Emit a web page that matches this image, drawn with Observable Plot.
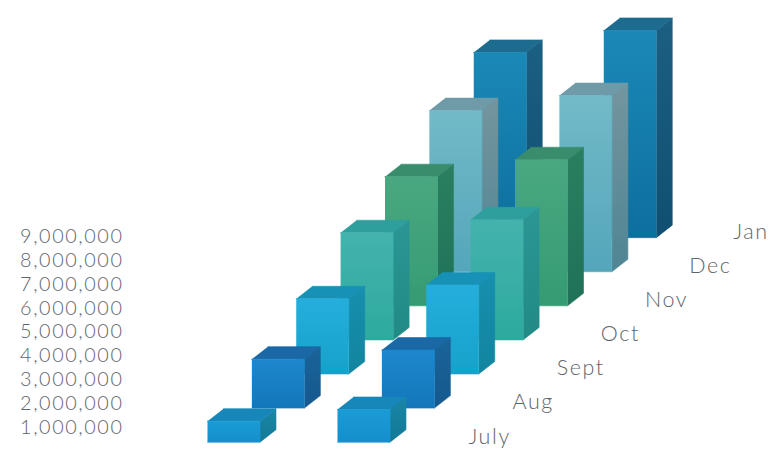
<!DOCTYPE html>
<html>
<head>
<meta charset="utf-8">
<script src="https://cdn.jsdelivr.net/npm/d3@7"></script>
<script src="https://cdn.jsdelivr.net/npm/@observablehq/plot@0.6"></script>
<style>
  html, body { margin: 0; padding: 0; background: #fff; }
  svg { display: block; }
</style>
</head>
<body>
<div id="chart"></div>
<script>
// Monthly totals for the two rows of bars.
const months = ["July", "Aug", "Sept", "Oct", "Nov", "Dec", "Jan"];
const rowBack = [880000, 2050000, 3150000, 4490000, 5410000, 6750000, 7760000];
const rowFront = [1370000, 2430000, 3730000, 5030000, 6120000, 7380000, 8680000];
const axisTicks = [1, 2, 3, 4, 5, 6, 7, 8, 9].map((m) => m * 1e6);

// Month colours: front face top and bottom, side face top and bottom, lid.
const frontTop = ["#1b9bd6", "#1d87cd", "#25aedc", "#44b3ad", "#4aa880", "#72bac8", "#1a89b7"];
const frontBottom = ["#1390cc", "#1377ba", "#15a2ca", "#2daa9e", "#359b73", "#54a6ba", "#0e6f9e"];
const sideTop = ["#1985a5", "#1a6499", "#178fae", "#2b9695", "#2a7f60", "#74959f", "#1b5f82"];
const sideBottom = ["#137a98", "#14588e", "#12849f", "#218a85", "#1f7259", "#4f8593", "#104f72"];
const lid = ["#1687b8", "#1a68a6", "#1792b6", "#2f9f9e", "#3a8d6c", "#6f9aa7", "#1d6b8f"];

// Oblique projection, in x-scale units and y-scale dollars.
const monthStepX = 0.995;
const monthRise = 1.428e6;
const rowGapX = 2.915;
const barWidth = 1.177;
const depthX = 0.359;
const depthRise = 0.5236e6;
const floorValue = 0.39e6;
const labelShiftX = 5.85;
const labelStepX = 0.99;
const labelLift = 0.23e6;

const faces = [];
function pushFace(id, paint, corners) {
  corners.forEach(([u, v]) => faces.push({id, paint, u, v}));
}
[rowBack, rowFront].forEach((row, r) => {
  // Far months first so the nearer bars cover them.
  for (let m = months.length - 1; m >= 0; --m) {
    const x0 = m * monthStepX + r * rowGapX;
    const x1 = x0 + barWidth;
    const base = floorValue + m * monthRise;
    const top = base + row[m];
    pushFace(`${r}-${m}-side`, `url(#side-${m})`, [
      [x1, base], [x1 + depthX, base + depthRise], [x1 + depthX, top + depthRise], [x1, top]
    ]);
    pushFace(`${r}-${m}-lid`, lid[m], [
      [x0, top], [x1, top], [x1 + depthX, top + depthRise], [x0 + depthX, top + depthRise]
    ]);
    pushFace(`${r}-${m}-front`, `url(#front-${m})`, [
      [x0, base], [x1, base], [x1, top], [x0, top]
    ]);
  }
});

const monthLabels = months.map((name, m) => ({
  name,
  u: labelShiftX + m * labelStepX,
  v: floorValue + labelLift + m * monthRise
}));

// Vertical shading for the bar faces.
function gradients() {
  const ns = "http://www.w3.org/2000/svg";
  const defs = document.createElementNS(ns, "defs");
  const add = (id, a, b) => {
    const g = document.createElementNS(ns, "linearGradient");
    g.setAttribute("id", id);
    g.setAttribute("x1", "0"); g.setAttribute("x2", "0");
    g.setAttribute("y1", "0"); g.setAttribute("y2", "1");
    [[0, a], [1, b]].forEach(([o, c]) => {
      const s = document.createElementNS(ns, "stop");
      s.setAttribute("offset", o);
      s.setAttribute("stop-color", c);
      g.appendChild(s);
    });
    defs.appendChild(g);
  };
  months.forEach((_, m) => {
    add(`front-${m}`, frontTop[m], frontBottom[m]);
    add(`side-${m}`, sideTop[m], sideBottom[m]);
  });
  return defs;
}

const chart = Plot.plot({
  width: 771,
  height: 450,
  marginLeft: 123,
  marginRight: 0,
  marginTop: 0,
  marginBottom: 0,
  style: {
    background: "#fff",
    color: "#5f656b",
    fontFamily: "Lato, sans-serif",
    fontWeight: 300,
    fontSize: "19.8px",
    letterSpacing: "1.6px"
  },
  x: {domain: [-1.883, 12.646], range: [123, 771], axis: null},
  y: {domain: [0, 18.85e6], range: [451, 1]},
  marks: [
    gradients,
    Plot.axisY({
      ticks: axisTicks,
      tickFormat: d3.format(","),
      tickSize: 0,
      tickPadding: 0,
      label: null,
      fontSize: 19.8
    }),
    Plot.line(faces, {
      x: "u",
      y: "v",
      z: "id",
      fill: {value: "paint", scale: null},
      stroke: {value: "paint", scale: null},
      strokeWidth: 0.6,
      curve: "linear"
    }),
    Plot.text(monthLabels, {
      x: "u",
      y: "v",
      text: "name",
      textAnchor: "start",
      fontSize: 21.5
    })
  ]
});
document.getElementById("chart").appendChild(chart);
</script>
</body>
</html>
